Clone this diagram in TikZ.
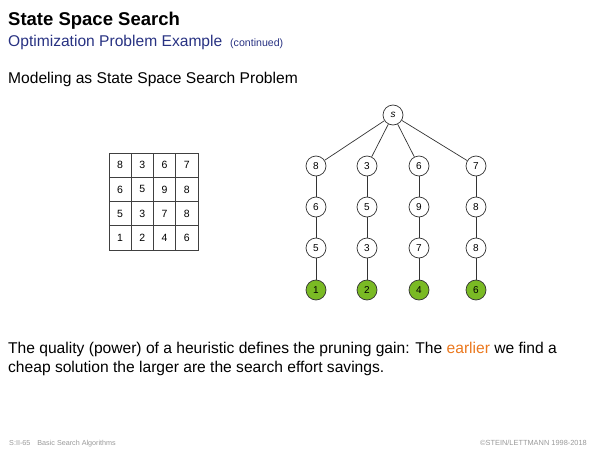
\documentclass[tikz,border=0pt]{standalone}
\usepackage{fontspec}
\setmainfont{Liberation Sans}
\definecolor{titleblue}{RGB}{40,50,130}
\definecolor{leafgreen}{RGB}{122,186,36}
\definecolor{hiorange}{RGB}{235,120,30}
\begin{document}
\begin{tikzpicture}[x=1pt, y=-1pt,
    state/.style={circle, draw=black!80, line width=0.7pt, fill=white, minimum size=20pt, inner sep=0pt, font=\fontsize{10}{12}\selectfont},
    goal/.style={state, fill=leafgreen},
    cell/.style={font=\fontsize{10.5}{12}\selectfont},
    edge/.style={draw=black!80, line width=0.7pt}]
    \useasboundingbox (0,0) rectangle (600,450);

    % heading
    \node[anchor=base west, inner sep=0pt, font=\fontsize{18.5}{22}\selectfont\bfseries] (title) at (8,25) {State Space Search};
    \node[anchor=base west, inner sep=0pt, text=titleblue, font=\fontsize{15.6}{18}\selectfont] (subtitle) at (8,46) {Optimization Problem Example};
    \node[anchor=base west, inner sep=0pt, text=titleblue, font=\fontsize{10.6}{12}\selectfont] (cont) at (230,46) {(continued)};
    \node[anchor=base west, inner sep=0pt, font=\fontsize{15.6}{18}\selectfont] (intro) at (8,83) {Modeling as State Space Search Problem};

    % matrix
    \draw[black!75, line width=0.6pt] (109,153) rectangle (198,250);
    \draw[black!75, line width=0.6pt] (131.25,153) -- (131.25,250);
    \draw[black!75, line width=0.6pt] (153.5,153) -- (153.5,250);
    \draw[black!75, line width=0.6pt] (175.75,153) -- (175.75,250);
    \draw[black!75, line width=0.6pt] (109,177.25) -- (198,177.25);
    \draw[black!75, line width=0.6pt] (109,201.5) -- (198,201.5);
    \draw[black!75, line width=0.6pt] (109,225.75) -- (198,225.75);

    \node[cell] (m11) at (120.1,165.1) {8};
    \node[cell] (m12) at (142.4,165.1) {3};
    \node[cell] (m13) at (164.6,165.1) {6};
    \node[cell] (m14) at (186.9,165.1) {7};
    \node[cell] (m21) at (120.1,189.4) {6};
    \node[cell] (m22) at (142.4,189.4) {5};
    \node[cell] (m23) at (164.6,189.4) {9};
    \node[cell] (m24) at (186.9,189.4) {8};
    \node[cell] (m31) at (120.1,213.6) {5};
    \node[cell] (m32) at (142.4,213.6) {3};
    \node[cell] (m33) at (164.6,213.6) {7};
    \node[cell] (m34) at (186.9,213.6) {8};
    \node[cell] (m41) at (120.1,237.9) {1};
    \node[cell] (m42) at (142.4,237.9) {2};
    \node[cell] (m43) at (164.6,237.9) {4};
    \node[cell] (m44) at (186.9,237.9) {6};

    % search tree
    \node[state] (s) at (393,115) {\textit{s}};

    \node[state] (a1) at (316,166) {8};
    \node[state] (a2) at (367,166) {3};
    \node[state] (a3) at (419,166) {6};
    \node[state] (a4) at (476,166) {7};

    \node[state] (b1) at (316,207) {6};
    \node[state] (b2) at (367,207) {5};
    \node[state] (b3) at (419,207) {9};
    \node[state] (b4) at (476,207) {8};

    \node[state] (c1) at (316,248) {5};
    \node[state] (c2) at (367,248) {3};
    \node[state] (c3) at (419,248) {7};
    \node[state] (c4) at (476,248) {8};

    \node[goal] (d1) at (316,290) {1};
    \node[goal] (d2) at (367,290) {2};
    \node[goal] (d3) at (419,290) {4};
    \node[goal] (d4) at (476,290) {6};

    \draw[edge] (s) -- (a1);
    \draw[edge] (s) -- (a2);
    \draw[edge] (s) -- (a3);
    \draw[edge] (s) -- (a4);
    \draw[edge] (a1) -- (b1) -- (c1) -- (d1);
    \draw[edge] (a2) -- (b2) -- (c2) -- (d2);
    \draw[edge] (a3) -- (b3) -- (c3) -- (d3);
    \draw[edge] (a4) -- (b4) -- (c4) -- (d4);

    % remark
    \node[anchor=base west, inner sep=0pt, align=left, font=\fontsize{15.6}{19}\selectfont] (remark) at (8,372)
        {The quality (power) of a heuristic defines the pruning gain: The \textcolor{hiorange}{earlier} we find a\\
         cheap solution the larger are the search effort savings.};

    % footer
    \node[anchor=base west, inner sep=0pt, text=black!40, font=\fontsize{7.2}{9}\selectfont] (footl) at (9,445) {S:II-65\hspace{7pt}Basic Search Algorithms};
    \node[anchor=base east, inner sep=0pt, text=black!40, font=\fontsize{7.4}{9}\selectfont] (footr) at (587,445) {\textcopyright STEIN/LETTMANN 1998-2018};
\end{tikzpicture}
\end{document}
